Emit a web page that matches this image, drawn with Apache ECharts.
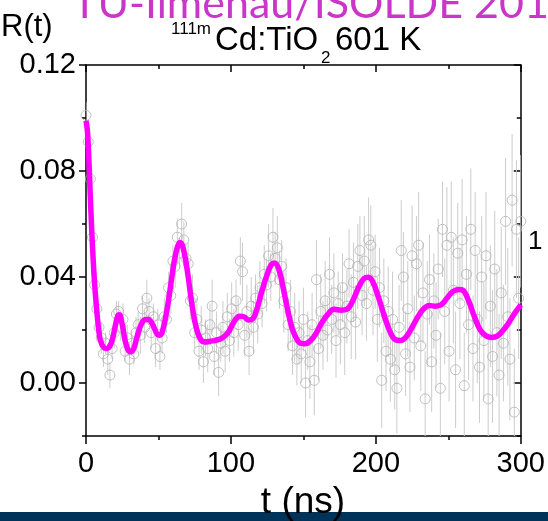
<!DOCTYPE html>
<html>
<head>
<meta charset="utf-8">
<script src="https://cdn.jsdelivr.net/npm/echarts@6/dist/echarts.min.js"></script>
<style>
html, body { margin: 0; padding: 0; background: #fff; }
#main { width: 548px; height: 521px; }
</style>
</head>
<body>
<div id="main"></div>
<script>
// R(t) spectrum, 111mCd:TiO2 at 601 K
var tStep = 1.5; // ns between measured points

var rData = [
    0.101,0.091,0.077,0.055,0.037,0.028,0.021,0.017,0.011,0.015,
    0.009,0.003,0.013,0.019,0.026,0.027,0.021,0.024,0.012,0.017,
    0.009,0.015,0.011,0.019,0.022,0.018,0.028,0.021,0.032,0.027,
    0.019,0.025,0.013,0.022,0.010,0.017,0.025,0.024,0.036,0.033,
    0.046,0.044,0.055,0.049,0.060,0.054,0.047,0.045,0.031,0.032,
    0.019,0.024,0.012,0.020,0.008,0.017,0.013,0.022,0.029,0.010,
    0.019,0.004,0.015,0.021,0.012,0.025,0.016,0.028,0.019,0.031,
    0.022,0.046,0.042,0.018,0.027,0.012,0.029,0.021,0.032,0.026,
    0.036,0.030,0.041,0.037,0.048,0.040,0.055,0.047,0.051,0.039,
    0.044,0.031,0.036,0.022,0.027,0.014,0.021,0.009,0.019,0.011,
    0.024,0.000,0.016,0.008,0.022,0.001,0.039,0.013,0.027,0.018,
    0.031,0.020,0.041,0.024,0.034,0.016,0.030,0.022,0.036,0.019,
    0.029,0.045,0.025,0.038,0.023,0.044,0.050,0.033,0.046,0.030,
    0.054,0.052,0.035,0.042,0.024,0.036,0.001,0.031,0.012,0.027,
    0.009,0.024,0.005,-0.002,0.021,0.050,0.040,0.011,0.028,0.006,
    0.048,0.017,0.045,0.052,0.014,0.034,-0.006,0.026,0.039,0.008,
    0.031,0.018,0.043,-0.002,0.058,0.027,0.052,0.012,0.055,0.035,
    0.005,0.049,0.030,0.054,-0.001,0.041,0.022,0.058,0.013,0.050,
    0.024,0.006,0.040,0.016,0.048,-0.006,0.029,0.010,0.043,0.019,
    0.003,0.034,0.015,0.061,0.025,0.009,0.069,-0.011,0.058,0.032,
    0.061
];

var rErr = [
    0.005,0.005,0.004,0.005,0.004,0.005,0.004,0.006,0.005,0.004,
    0.006,0.005,0.004,0.006,0.005,0.004,0.005,0.006,0.004,0.005,
    0.006,0.005,0.004,0.006,0.005,0.007,0.005,0.006,0.007,0.005,
    0.006,0.005,0.007,0.006,0.005,0.006,0.007,0.005,0.006,0.007,
    0.006,0.008,0.007,0.006,0.008,0.007,0.006,0.008,0.007,0.009,
    0.006,0.008,0.007,0.009,0.008,0.007,0.009,0.008,0.010,0.007,
    0.008,0.009,0.007,0.010,0.008,0.009,0.008,0.010,0.009,0.008,
    0.010,0.009,0.011,0.008,0.010,0.009,0.011,0.010,0.009,0.011,
    0.010,0.009,0.011,0.010,0.012,0.009,0.011,0.010,0.012,0.011,
    0.010,0.012,0.011,0.010,0.012,0.011,0.013,0.010,0.012,0.011,
    0.012,0.013,0.011,0.014,0.012,0.013,0.015,0.012,0.014,0.013,
    0.015,0.012,0.014,0.013,0.015,0.014,0.012,0.015,0.013,0.016,
    0.014,0.013,0.016,0.015,0.014,0.016,0.013,0.015,0.017,0.014,
    0.016,0.015,0.017,0.014,0.016,0.015,0.018,0.016,0.015,0.017,
    0.016,0.018,0.015,0.017,0.016,0.019,0.017,0.016,0.018,0.017,
    0.019,0.016,0.018,0.020,0.017,0.019,0.018,0.020,0.017,0.019,
    0.018,0.020,0.019,0.021,0.018,0.020,0.022,0.019,0.021,0.020,
    0.022,0.019,0.021,0.023,0.020,0.022,0.021,0.023,0.020,0.022,
    0.024,0.021,0.023,0.022,0.024,0.021,0.023,0.025,0.022,0.024,
    0.023,0.025,0.022,0.024,0.026,0.023,0.025,0.024,0.026,0.023,
    0.025
];

// fitted curve
var fitT = [0,1,2,3,4,5,6,7,8,9,10,12,14,16,18,20,22,23,25,27,29,
    31,33,35,38,41,43,46,49,51,53,56,59,62,65,67,70,73,76,79,82,
    86,90,94,98,102,106,109,112,115,118,121,125,128,130,133,136,139,142,145,148,
    151,155,159,163,167,171,176,180,184,188,192,195,198,202,206,210,213,217,221,225,
    229,233,237,241,245,249,253,257,260,264,268,272,276,280,284,288,292,296,300];
var fitR = [0.099,0.095,0.084,0.070,0.057,0.046,0.037,0.030,0.024,0.019,0.016,
    0.0135,0.013,0.0135,0.016,0.021,0.0255,0.0258,0.022,0.016,0.0125,
    0.0118,0.013,0.017,0.022,0.024,0.024,0.022,0.0185,0.018,0.020,
    0.028,0.039,0.049,0.053,0.051,0.042,0.030,0.021,0.0165,0.0155,
    0.0158,0.0162,0.017,0.019,0.023,0.0252,0.025,0.0238,0.0242,0.028,
    0.034,0.041,0.0448,0.0453,0.043,0.036,0.028,0.021,0.017,0.015,
    0.0148,0.016,0.019,0.023,0.026,0.0278,0.0275,0.0278,0.031,0.036,
    0.0395,0.0399,0.038,0.032,0.025,0.019,0.0165,0.016,0.0175,0.021,
    0.025,0.028,0.0292,0.029,0.0295,0.032,0.0345,0.0353,0.035,0.031,
    0.025,0.020,0.0178,0.0172,0.0178,0.020,0.023,0.0265,0.0295];

var yMajor = [0, 0.04, 0.08, 0.12];
var yMinor = [-0.02, 0.02, 0.06, 0.10];

var chart = echarts.init(document.getElementById('main'));

var pts = [], bars = [], fit = [];
for (var i = 0; i < rData.length; i++) {
    pts.push([i * tStep, rData[i]]);
    bars.push([i * tStep, rData[i] - rErr[i], rData[i] + rErr[i]]);
}
for (var j = 0; j < fitT.length; j++) {
    fit.push([fitT[j], fitR[j]]);
}

var FONT = '"Liberation Sans", Arial, sans-serif';
var tickStyle = { color: '#000', width: 1.5 };

function yAx(pos, values, len, inside, showLine, showLabel) {
    return {
        type: 'value', position: pos, min: -0.02, max: 0.12,
        axisLine: { show: showLine, onZero: false, lineStyle: tickStyle },
        axisTick: { show: true, inside: inside, length: len, customValues: values, lineStyle: tickStyle },
        axisLabel: {
            show: showLabel, customValues: values, color: '#000', fontSize: 29, fontFamily: FONT, margin: 10,
            formatter: function (v) { return v.toFixed(2); }
        },
        splitLine: { show: false }
    };
}

function txt(s, x, y, size, align, fam, color) {
    return {
        type: 'text', x: x, y: y, z: 11,
        style: { text: s, font: size + 'px ' + (fam || FONT), fill: color || '#000', align: align, verticalAlign: 'middle' }
    };
}

var option = {
    animation: false,
    grid: { left: 86, right: 27, top: 65, bottom: 85 },
    xAxis: [
        {
            type: 'value', position: 'bottom', min: 0, max: 300, interval: 100,
            axisLine: { onZero: false, lineStyle: tickStyle },
            axisTick: { length: 8, lineStyle: tickStyle },
            minorTick: { show: true, splitNumber: 2, length: 4, lineStyle: tickStyle },
            axisLabel: { color: '#000', fontSize: 29, fontFamily: FONT, margin: 13 },
            splitLine: { show: false }
        },
        {
            type: 'value', position: 'top', min: 0, max: 300, interval: 100,
            axisLine: { onZero: false, lineStyle: tickStyle },
            axisTick: { inside: true, length: 7, lineStyle: tickStyle },
            minorTick: { show: true, splitNumber: 2, length: 4, lineStyle: tickStyle },
            axisLabel: { show: false },
            splitLine: { show: false }
        }
    ],
    yAxis: [
        yAx('left', yMajor, 7, false, true, true),
        yAx('left', yMinor, 4, false, false, false),
        yAx('right', yMajor, 7, true, true, false),
        yAx('right', yMinor, 4, true, false, false)
    ],
    series: [
        {
            type: 'custom',
            clip: true,
            data: bars,
            renderItem: function (params, api) {
                var lo = api.coord([api.value(0), api.value(1)]);
                var hi = api.coord([api.value(0), api.value(2)]);
                return {
                    type: 'line',
                    shape: { x1: lo[0], y1: lo[1], x2: hi[0], y2: hi[1] },
                    style: { stroke: '#cccccc', lineWidth: 1 }
                };
            },
            z: 1
        },
        {
            type: 'scatter',
            data: pts,
            symbol: 'circle',
            symbolSize: 10,
            clip: true,
            itemStyle: { color: 'rgba(255,255,255,0)', borderColor: '#b2b2b2', borderWidth: 1 },
            z: 2
        },
        {
            type: 'line',
            data: fit,
            smooth: 0.4,
            showSymbol: false,
            lineStyle: { color: '#ff00ff', width: 5.5 },
            z: 3
        }
    ],
    graphic: [
        { type: 'rect', shape: { x: 0, y: 512, width: 548, height: 9 }, style: { fill: '#003359' }, z: 10 },
        txt('t (ns)', 303, 503, 37, 'center'),
        txt('R(t)', 1, 27, 31, 'left'),
        txt('TU-Ilmenau/ISOLDE 2017', 72, 4, 43, 'left', 'Lato, "Open Sans", sans-serif', '#c936c9'),
        txt('111m', 171, 29, 17, 'left'),
        txt('Cd:TiO', 215, 41, 33, 'left'),
        txt('2', 321, 58, 17, 'left'),
        txt('601 K', 335, 41, 33, 'left'),
        txt('1', 528, 242, 26, 'left')
    ]
};

chart.setOption(option);
</script>
</body>
</html>
